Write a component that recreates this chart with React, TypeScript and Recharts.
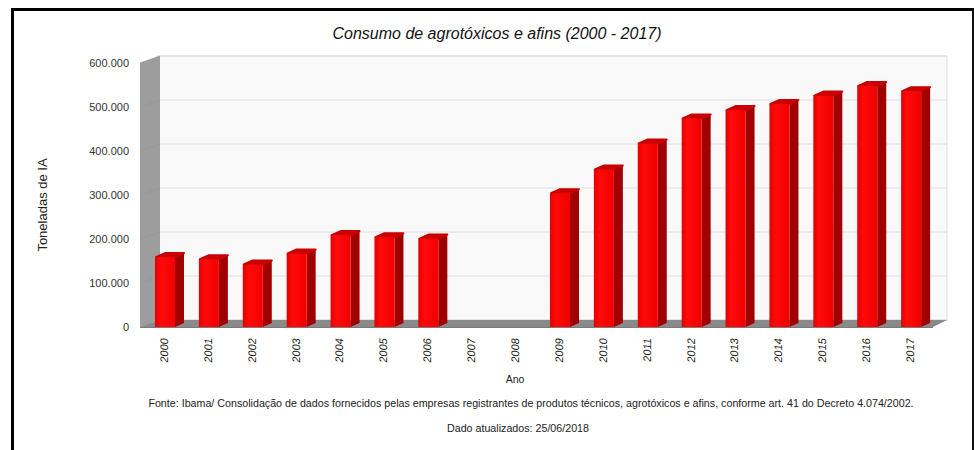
import React from 'react';
import { BarChart, Bar, XAxis, YAxis, ReferenceArea } from 'recharts';

// Consumo de agrotóxicos e afins, toneladas de IA (Ibama)
const years = ['2000', '2001', '2002', '2003', '2004', '2005', '2006', '2007', '2008',
  '2009', '2010', '2011', '2012', '2013', '2014', '2015', '2016', '2017'];
const tonnes: (number | null)[] = [159000, 154000, 142000, 167000, 209000, 204000, 201000, null, null,
  304000, 358000, 417000, 474000, 493000, 507000, 526000, 548000, 536000];
const yTicks = [0, 100000, 200000, 300000, 400000, 500000, 600000];

const data = years.map((ano, i) => ({ ano, valor: tonnes[i] }));

const FONT = '"Liberation Sans", Arial, sans-serif';
const DX = 14; // 3d depth of the walls
const DY = 7;

const fmt = (v: number) => (v === 0 ? '0' : v.toLocaleString('de-DE'));

// back wall, left wall and floor drawn from the plot rectangle
function Walls(props: any) {
  const { x, y, width, height } = props;
  const bottom = y + height;
  const right = x + width;
  return (
    <g>
      <rect x={x + DX} y={y - DY} width={width} height={height} fill="#f9f9f9" stroke="#d6d6d6" strokeWidth={0.8} />
      {yTicks.map((t) => {
        const yy = bottom - (height * t) / 600000;
        return (
          <g key={t}>
            <line x1={x - 3} y1={yy} x2={x + DX + 3} y2={yy - DY} stroke="#b0b0b0" strokeWidth={1} />
            <line x1={x + DX + 3} y1={yy - DY} x2={right + DX} y2={yy - DY} stroke="#dedede" strokeWidth={1} />
          </g>
        );
      })}
      <polygon
        points={`${x - 3},${y} ${x + DX + 3},${y - DY} ${x + DX + 3},${bottom - DY} ${x - 3},${bottom}`}
        fill="#959595"
        opacity={0.92}
      />
      <polygon
        points={`${x - 3},${bottom} ${x + DX + 3},${bottom - DY} ${right + DX},${bottom - DY} ${right},${bottom}`}
        fill="#8a8a8a"
      />
      <line x1={x - 3} y1={bottom + 0.5} x2={right} y2={bottom + 0.5} stroke="#7a7a7a" strokeWidth={1} />
    </g>
  );
}

function Bar3D(props: any) {
  const { x, y, width, height } = props;
  if (!height || height <= 0) return null;
  const d = 9;
  const dy = 4;
  const w = width;
  return (
    <g>
      <polygon
        points={`${x + w},${y} ${x + w + d},${y - dy} ${x + w + d},${y + height - dy} ${x + w},${y + height}`}
        fill="#a00000"
      />
      <polygon
        points={`${x + 1},${y} ${x + d + 1},${y - dy} ${x + w + d},${y - dy} ${x + w},${y}`}
        fill="#c80000"
        stroke="#c80000"
        strokeLinejoin="round"
        strokeWidth={2}
      />
      <rect x={x} y={y} width={w} height={height} fill="url(#frontRed)" />
    </g>
  );
}

function YearTick(props: any) {
  const { x, y, payload } = props;
  return (
    <text
      transform={`translate(${x - 1},${y + 3}) rotate(-90) skewX(-8)`}
      textAnchor="end"
      dominantBaseline="central"
      fontSize={11}
      fill="#222"
      fontFamily={FONT}
    >
      {payload.value}
    </text>
  );
}

export default function App() {
  return (
    <div style={{ position: 'absolute', left: 0, top: 0, width: 974, height: 450, background: '#fff', fontFamily: FONT }}>
      <div
        style={{
          position: 'absolute',
          left: 11,
          top: 8,
          width: 958,
          height: 439,
          borderTop: '3px solid #000',
          borderLeft: '3px solid #000',
          borderRight: '2px solid #111',
          borderBottom: '1px solid #d0d0d0',
        }}
      />
      <div style={{ position: 'absolute', left: 0, top: 25, width: 994, textAlign: 'center', fontSize: 16, fontStyle: 'italic', color: '#111' }}>
        Consumo de agrotóxicos e afins (2000 - 2017)
      </div>
      <div
        style={{
          position: 'absolute',
          left: 42,
          top: 205,
          transform: 'translate(-50%, -50%) rotate(-90deg)',
          whiteSpace: 'nowrap',
          fontSize: 13,
          color: '#222',
        }}
      >
        Toneladas de IA
      </div>
      <div style={{ position: 'absolute', left: 0, top: 373, width: 1030, textAlign: 'center', fontSize: 10.5, color: '#222' }}>
        Ano
      </div>
      <div style={{ position: 'absolute', left: 0, top: 397, width: 1062, textAlign: 'center', fontSize: 10.7, color: '#222', whiteSpace: 'nowrap' }}>
        Fonte: Ibama/ Consolidação de dados fornecidos pelas empresas registrantes de produtos técnicos, agrotóxicos e afins, conforme art. 41 do Decreto 4.074/2002.
      </div>
      <div style={{ position: 'absolute', left: 0, top: 422, width: 1036, textAlign: 'center', fontSize: 10.7, color: '#222' }}>
        Dado atualizados: 25/06/2018
      </div>
      <div style={{ position: 'absolute', left: 0, top: 0 }}>
        <BarChart width={974} height={450} data={data} margin={{ top: 63, right: 41, bottom: 0, left: 0 }}>
          <defs>
            <linearGradient id="frontRed" x1="0" y1="0" x2="1" y2="0">
              <stop offset="0%" stopColor="#e60000" />
              <stop offset="30%" stopColor="#ff0a0a" />
              <stop offset="100%" stopColor="#f00000" />
            </linearGradient>
          </defs>
          <XAxis
            dataKey="ano"
            interval={0}
            axisLine={false}
            tickLine={false}
            tick={<YearTick />}
            height={123}
          />
          <YAxis
            width={143}
            domain={[0, 600000]}
            ticks={yTicks}
            axisLine={false}
            tickLine={false}
            tickMargin={8}
            tickFormatter={fmt}
            tick={{ fontSize: 11, fill: '#333', fontFamily: FONT }}
          />
          <ReferenceArea y1={0} y2={600000} shape={<Walls />} ifOverflow="visible" />
          <Bar dataKey="valor" barSize={20} shape={<Bar3D />} isAnimationActive={false} />
        </BarChart>
      </div>
    </div>
  );
}
